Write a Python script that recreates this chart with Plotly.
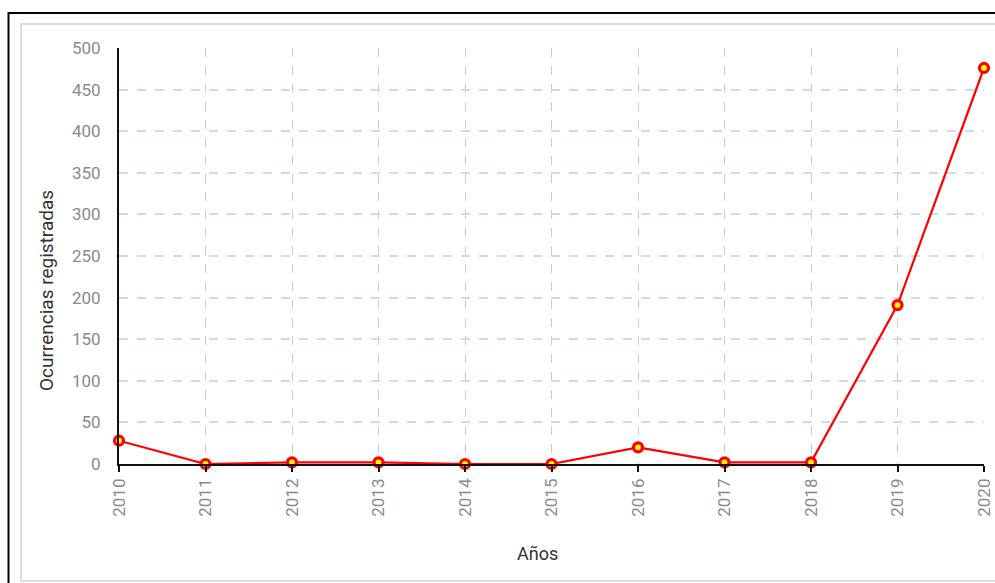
import plotly.graph_objects as go

years = [2010, 2011, 2012, 2013, 2014, 2015, 2016, 2017, 2018, 2019, 2020]
ocurrencias = [28, 0, 2, 2, 0, 0, 20, 2, 2, 191, 476]
x_title = "Años"
y_title = "Ocurrencias registradas"

W, H = 995, 583
L, R, T, B = 119, 11, 48, 119
pw, ph = W - L - R, H - T - B

def px(xp):
    return (xp - L) / pw

def py(yp):
    return (H - B - yp) / ph

fig = go.Figure()
fig.add_trace(go.Scatter(
    x=years, y=ocurrencias, mode="lines+markers",
    line=dict(color="#ff0000", width=2.2),
    marker=dict(size=9, color="#ffff00", line=dict(color="#ff0000", width=3.2)),
    cliponaxis=False, showlegend=False,
))

font = "Roboto, sans-serif"
fig.update_layout(
    width=W, height=H,
    margin=dict(l=L, r=R, t=T, b=B, pad=0, autoexpand=False),
    paper_bgcolor="white", plot_bgcolor="white",
    font=dict(family=font, color="#888888", size=17),
    xaxis=dict(
        range=[2010, 2020], tickmode="array", tickvals=years,
        ticktext=[str(y) for y in years], tickangle=-90,
        showgrid=True, gridcolor="#cccccc", griddash="dash", gridwidth=1,
        showline=True, linecolor="#111111", linewidth=1.5,
        ticks="outside", ticklen=6, tickcolor="#111111", tickwidth=1.5,
        zeroline=False, automargin=False,
        tickfont=dict(color="#8a8a8a", size=17),
    ),
    yaxis=dict(
        range=[0, 500], tickmode="linear", tick0=0, dtick=50,
        showgrid=True, gridcolor="#c9dcf0", griddash="dash", gridwidth=1.5,
        showline=True, linecolor="#111111", linewidth=2,
        ticks="", ticklabelstandoff=13, zeroline=False, automargin=False,
        tickfont=dict(color="#8a8a8a", size=17),
    ),
    annotations=[
        dict(text=y_title, xref="paper", yref="paper", x=px(46), y=py(291),
             xanchor="center", yanchor="middle", textangle=-90, showarrow=False,
             font=dict(color="#333333", size=19)),
        dict(text=x_title, xref="paper", yref="paper", x=px(537), y=py(553),
             xanchor="center", yanchor="middle", showarrow=False,
             font=dict(color="#333333", size=18)),
    ],
    shapes=[
        dict(type="rect", xref="paper", yref="paper",
             x0=px(21), x1=px(1010), y0=py(581), y1=py(24),
             line=dict(color="#dddddd", width=2), fillcolor="rgba(0,0,0,0)", layer="below"),
        dict(type="rect", xref="paper", yref="paper",
             x0=px(8.5), x1=px(1010), y0=py(600), y1=py(13),
             line=dict(color="#000000", width=2), fillcolor="rgba(0,0,0,0)", layer="below"),
    ],
)

post = (
    "document.body.style.margin='0px';"
    "document.body.style.overflow='hidden';"
    "var gd=document.getElementById('{plot_id}');"
    "Plotly.relayout(gd,{width:995,height:583});"
)
fig.write_html("out.html", config={"displayModeBar": False}, post_script=post)
